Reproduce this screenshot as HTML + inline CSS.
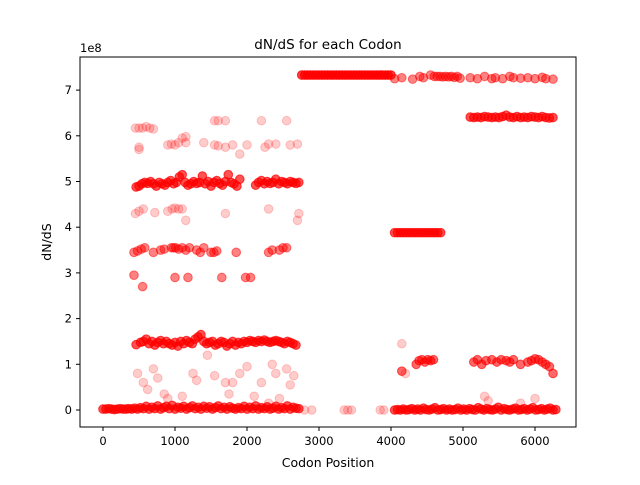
<!DOCTYPE html>
<html><head><meta charset="utf-8"><style>
body{margin:0;background:#fff;}
svg{font-family:"DejaVu Sans","Liberation Sans",sans-serif;}
</style></head><body>
<svg id="chart" width="640" height="480" viewBox="0 0 640 480">
<rect width="640" height="480" fill="#fff"/>
<text x="328" y="49" text-anchor="middle" font-size="13.5">dN/dS for each Codon</text>
<text x="80" y="52" font-size="11.5">1e8</text>
<text x="328" y="467" text-anchor="middle" font-size="12.5">Codon Position</text>
<text transform="translate(51,242) rotate(-90)" text-anchor="middle" font-size="12.5">dN/dS</text>
<g id="marks"></g>
<g id="axes"></g>
<rect x="80" y="57" width="496" height="370" fill="none" stroke="#000" stroke-width="1"/>
</svg>
<script>
const xTicks = [0,1000,2000,3000,4000,5000,6000];
const yTicks = [0,1,2,3,4,5,6,7];
// codon positions and dN/dS values (units of 1e8), grouped by band
const baseLeftX = [0,40,80,120,160,200,240,280,320,360,400,440,480,520,560,600,640,680,720,760,800,840,880,920,960,1000,1040,1080,1120,1160,1200,1240,1280,1320,1360,1400,1440,1480,1520,1560,1600,1640,1680,1720,1760,1800,1840,1880,1920,1960,2000,2040,2080,2120,2160,2200,2240,2280,2320,2360,2400,2440,2480,2520,2560,2600,2640,2680,2720];
const baseLeftY = [0.02,0.02,0.03,0.02,0.01,0.02,0.03,0.02,0.02,0.03,0.02,0.04,0.02,0.05,0.03,0.08,0.02,0.06,0.03,0.09,0.02,0.05,0.08,0.03,0.1,0.02,0.06,0.04,0.08,0.02,0.05,0.09,0.03,0.06,0.02,0.08,0.04,0.07,0.02,0.05,0.09,0.03,0.06,0.02,0.07,0.04,0.02,0.05,0.03,0.08,0.02,0.06,0.03,0.09,0.02,0.05,0.03,0.07,0.02,0.04,0.08,0.02,0.05,0.03,0.09,0.02,0.06,0.04,0.03];
const baseMidX = [2800,2900,3350,3400,3450,3850,3900];
const baseMidY = [0.0,0.0,0.0,0.0,0.0,0.0,0.0];
const baseRightX = [4050,4090,4130,4170,4210,4250,4290,4330,4370,4410,4450,4490,4530,4570,4610,4650,4690,4730,4770,4810,4850,4890,4930,4970,5010,5050,5090,5130,5170,5210,5250,5290,5330,5370,5410,5450,5490,5530,5570,5610,5650,5690,5730,5770,5810,5850,5890,5930,5970,6010,6050,6090,6130,6170,6210,6250,6290];
const baseRightY = [0.0,0.01,0.0,0.02,0.0,0.01,0.03,0.0,0.02,0.0,0.04,0.01,0.0,0.02,0.05,0.0,0.01,0.03,0.0,0.02,0.0,0.01,0.04,0.0,0.02,0.0,0.03,0.01,0.0,0.05,0.02,0.0,0.03,0.01,0.0,0.02,0.06,0.0,0.03,0.01,0.0,0.02,0.04,0.0,0.01,0.03,0.0,0.02,0.05,0.0,0.01,0.03,0.0,0.02,0.04,0.0,0.01];
const topBandX = [2760,2800,2840,2880,2920,2960,3000,3040,3080,3120,3160,3200,3240,3280,3320,3360,3400,3440,3480,3520,3560,3600,3640,3680,3720,3760,3800,3840,3880,3920,3960,4000];
const topBandY = [7.33,7.33,7.33,7.33,7.33,7.33,7.33,7.33,7.33,7.33,7.33,7.33,7.33,7.33,7.33,7.33,7.33,7.33,7.33,7.33,7.33,7.33,7.33,7.33,7.33,7.33,7.33,7.33,7.33,7.33,7.33,7.33];
const topRightX = [4050,4150,4300,4400,4450,4550,4600,4640,4680,4720,4760,4800,4840,4880,4920,4960,5100,5200,5300,5400,5450,5550,5650,5700,5800,5900,6000,6100,6150,6250];
const topRightY = [7.25,7.27,7.24,7.3,7.27,7.33,7.3,7.3,7.3,7.29,7.3,7.29,7.3,7.28,7.3,7.26,7.27,7.25,7.3,7.25,7.27,7.25,7.3,7.27,7.26,7.27,7.25,7.28,7.25,7.24];
const band64X = [5100,5150,5200,5250,5300,5350,5400,5450,5500,5550,5600,5650,5700,5750,5800,5850,5900,5950,6000,6050,6100,6150,6200,6250];
const band64Y = [6.41,6.4,6.41,6.4,6.42,6.41,6.4,6.41,6.4,6.42,6.45,6.41,6.4,6.42,6.4,6.41,6.4,6.42,6.41,6.4,6.42,6.4,6.39,6.4];
const band39X = [4050,4090,4130,4170,4210,4250,4290,4330,4370,4410,4450,4490,4530,4570,4610,4650,4690];
const band39Y = [3.88,3.88,3.88,3.88,3.88,3.88,3.88,3.88,3.88,3.88,3.88,3.88,3.88,3.88,3.88,3.88,3.88];
const band11X = [4150,4350,4390,4430,4470,4510,4550,4590,5150,5200,5260,5320,5400,5470,5530,5600,5650,5700,5800,5900,5950,6000,6050,6100,6150,6200,6250];
const band11Y = [0.85,1.0,1.08,1.1,1.05,1.1,1.08,1.1,1.05,1.1,1.0,1.08,1.1,1.05,1.1,1.08,1.05,1.1,1.0,1.05,1.08,1.12,1.1,1.05,1.0,0.95,0.8];
const upperLeftX = [450,500,550,600,650,700,1550,1600,1700,2200,2550,500,900,950,1000,1050,1150,1400,1550,1600,1700,2000,2250,2300,2400,2600,2700,500,1100,1150,1800,1900];
const upperLeftY = [6.17,6.17,6.17,6.2,6.17,6.15,6.33,6.33,6.33,6.33,6.33,5.75,5.8,5.82,5.8,5.85,5.98,5.85,5.8,5.78,5.75,5.8,5.75,5.82,5.82,5.8,5.82,5.7,5.95,5.85,5.8,5.6];
const band49X = [460,500,540,580,620,660,700,740,780,820,860,900,940,980,1020,1060,1100,1140,1180,1220,1260,1300,1340,1380,1420,1460,1500,1540,1580,1620,1660,1700,1740,1780,1820,1860,1900,2120,2160,2200,2240,2280,2320,2360,2400,2440,2480,2520,2560,2600,2640,2680,2720];
const band49Y = [4.88,4.9,4.95,4.98,4.96,5.0,4.95,4.9,4.98,4.95,4.92,4.98,5.02,4.95,4.98,5.1,5.15,4.98,4.92,4.95,5.0,4.96,4.98,5.12,4.95,5.0,4.9,4.98,5.02,4.96,4.92,5.0,5.15,4.98,4.95,4.9,5.05,4.92,4.98,5.02,4.95,5.0,4.96,4.98,5.05,4.95,5.0,4.98,4.95,5.0,4.98,4.96,4.98];
const band43X = [450,500,560,720,900,960,1000,1050,1100,1150,1700,2300,2700,2720];
const band43Y = [4.3,4.35,4.4,4.32,4.35,4.4,4.42,4.4,4.4,4.15,4.3,4.4,4.15,4.3];
const band35X = [430,480,530,580,700,800,850,950,980,1010,1050,1100,1150,1200,1300,1350,1400,1500,1540,1580,1850,2300,2350,2450,2500,2550,430,550,1000,1180,1650,1980,2050];
const band35Y = [3.45,3.48,3.52,3.55,3.45,3.5,3.52,3.55,3.55,3.55,3.52,3.55,3.5,3.55,3.5,3.45,3.55,3.45,3.45,3.48,3.45,3.45,3.5,3.5,3.55,3.55,2.95,2.7,2.9,2.9,2.9,2.9,2.9];
const band15X = [460,520,560,600,640,680,720,760,800,840,880,920,960,1000,1040,1080,1120,1160,1200,1240,1280,1320,1360,1400,1440,1480,1520,1560,1600,1640,1680,1720,1760,1800,1840,1880,1920,1960,2000,2040,2080,2120,2160,2200,2240,2280,2320,2360,2400,2440,2480,2520,2560,2600,2640,2680];
const band15Y = [1.43,1.48,1.5,1.55,1.45,1.5,1.42,1.48,1.52,1.45,1.5,1.45,1.42,1.48,1.4,1.5,1.45,1.52,1.48,1.45,1.55,1.6,1.65,1.5,1.45,1.48,1.5,1.42,1.45,1.5,1.48,1.4,1.45,1.5,1.42,1.48,1.45,1.5,1.48,1.52,1.5,1.48,1.52,1.5,1.53,1.5,1.48,1.5,1.52,1.5,1.48,1.45,1.5,1.48,1.45,1.42];
const scatterLowX = [480,560,620,700,760,850,900,1100,1250,1300,1450,1550,1700,1750,1800,1900,2000,2100,2200,2300,2350,2400,2450,2550,2600,2650,4150,4200,5300,5350,5800,6000];
const scatterLowY = [0.8,0.6,0.45,0.9,0.7,0.35,0.25,0.3,0.8,0.65,1.2,0.75,0.6,0.35,0.6,0.8,0.95,0.3,0.6,0.15,1.0,0.8,0.25,0.9,0.55,0.75,1.45,0.8,0.3,0.2,0.15,0.25];
// number of overlapping codons per point in each group (density)
const groupCounts = [5,1,5,6,3,5,5,4,1,5,1,3,5,1];
const groups = [[baseLeftX,baseLeftY],[baseMidX,baseMidY],[baseRightX,baseRightY],[topBandX,topBandY],[topRightX,topRightY],[band64X,band64Y],[band39X,band39Y],[band11X,band11Y],[upperLeftX,upperLeftY],[band49X,band49Y],[band43X,band43Y],[band35X,band35Y],[band15X,band15Y],[scatterLowX,scatterLowY]];

const NS="http://www.w3.org/2000/svg";
function xs(v){return 103 + v*0.072;}
function ys(v){return 410 - v*45.7;}
const marks=document.getElementById('marks');
groups.forEach((g,gi)=>{
  for(let k=0;k<groupCounts[gi];k++){
  g[0].forEach((x,i)=>{
    const c=document.createElementNS(NS,'circle');
    c.setAttribute('cx',xs(x));c.setAttribute('cy',ys(g[1][i]));c.setAttribute('r',4.3);
    c.setAttribute('fill','rgba(255,0,0,0.2)');c.setAttribute('stroke','rgba(255,0,0,0.2)');
    
    
    marks.appendChild(c);
  });
  }
});
const axes=document.getElementById('axes');
xTicks.forEach(t=>{
  const l=document.createElementNS(NS,'line');
  l.setAttribute('x1',xs(t));l.setAttribute('x2',xs(t));l.setAttribute('y1',427);l.setAttribute('y2',431);l.setAttribute('stroke','#000');
  
  
  axes.appendChild(l);
  const tx=document.createElementNS(NS,'text');
  tx.setAttribute('x',xs(t));tx.setAttribute('y',445);tx.setAttribute('text-anchor','middle');tx.setAttribute('font-size','11.5');tx.textContent=t;
  
  
  axes.appendChild(tx);
});
yTicks.forEach(t=>{
  const l=document.createElementNS(NS,'line');
  l.setAttribute('x1',76);l.setAttribute('x2',80);l.setAttribute('y1',ys(t));l.setAttribute('y2',ys(t));l.setAttribute('stroke','#000');
  
  
  axes.appendChild(l);
  const tx=document.createElementNS(NS,'text');
  tx.setAttribute('x',72);tx.setAttribute('y',ys(t)+4);tx.setAttribute('text-anchor','end');tx.setAttribute('font-size','11.5');tx.textContent=t;
  
  
  axes.appendChild(tx);
});
</script>
</body></html>
